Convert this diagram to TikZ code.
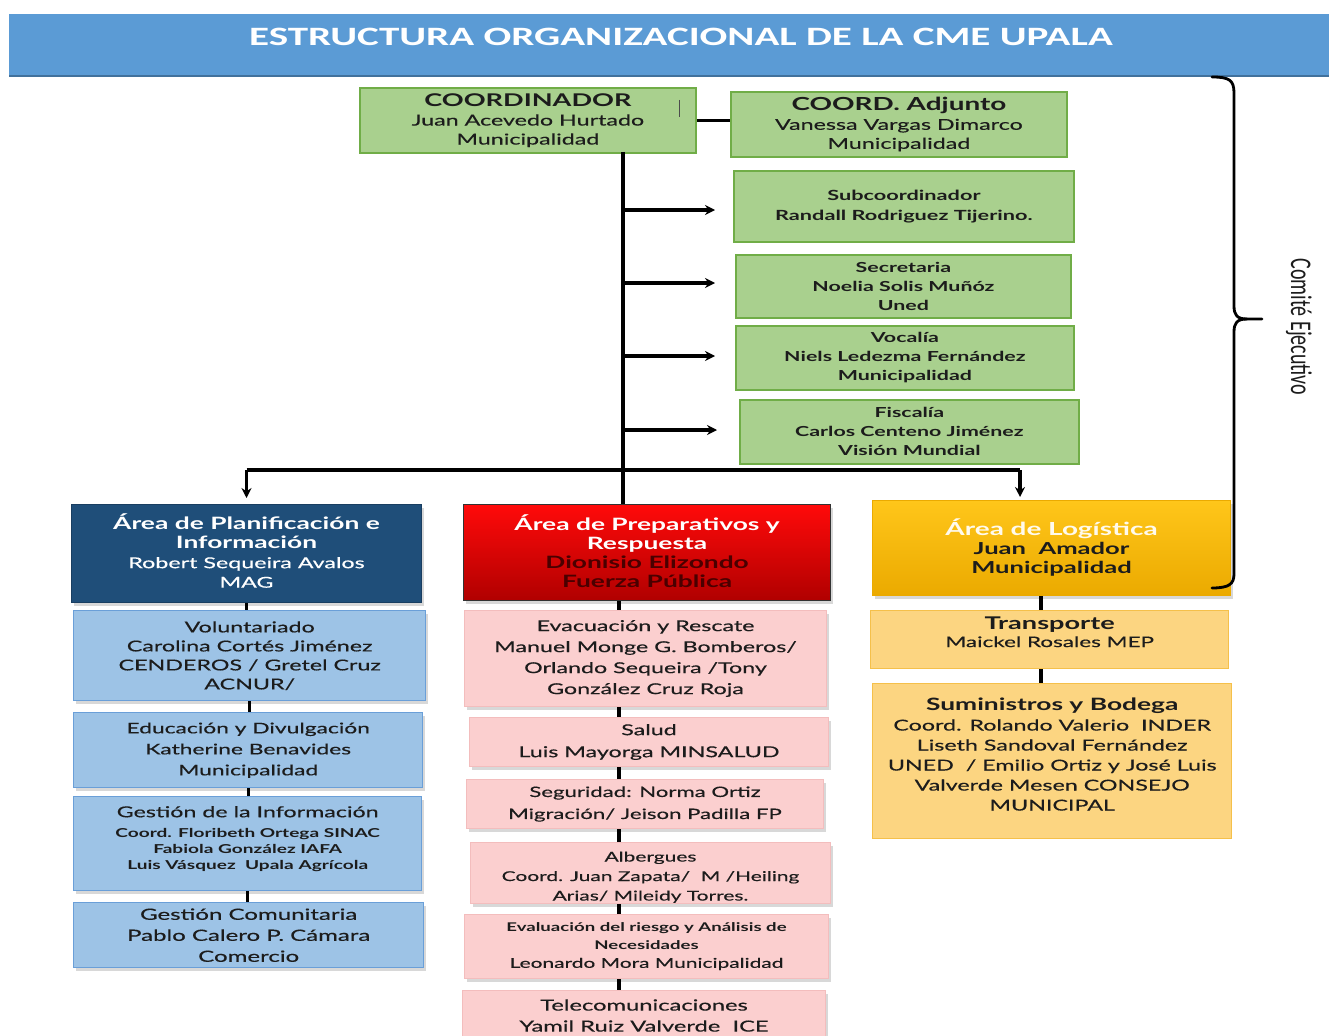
\documentclass[tikz,border=0pt]{standalone}
\usepackage{fontspec}
\setmainfont{Lato}[FakeStretch=1.55, UprightFeatures={FakeBold=0.4}]
\newfontfamily\titlefont{Carlito}[FakeStretch=1.55]
\newfontfamily\sidefont{Carlito}
\usetikzlibrary{shadows,arrows.meta}
\definecolor{titleblue}{HTML}{5B9BD5}
\definecolor{titleedge}{HTML}{41719C}
\definecolor{gF}{HTML}{A9D08E}
\definecolor{gB}{HTML}{70AD47}
\definecolor{dblue}{HTML}{1F4E79}
\definecolor{lblue}{HTML}{9DC3E6}
\definecolor{lblueB}{HTML}{6A9FD8}
\definecolor{pinkF}{HTML}{FBCFCF}
\definecolor{pinkB}{HTML}{F3BDBD}
\definecolor{redTop}{HTML}{FF0A0A}
\definecolor{redBot}{HTML}{B00000}
\definecolor{redTxt}{HTML}{4A0000}
\definecolor{yTop}{HTML}{FFC61A}
\definecolor{yBot}{HTML}{EBAA00}
\definecolor{lyF}{HTML}{FCD581}
\definecolor{lyB}{HTML}{F5C04A}
\definecolor{txt}{HTML}{1C1C1C}
\tikzset{
  bx/.style={anchor=north west, align=center, inner sep=1pt, text=txt},
  shd/.style={drop shadow={shadow xshift=2pt,shadow yshift=-3pt,opacity=0.3}},
  gbox/.style={bx, fill=gF, draw=gB, line width=1.8pt},
  bhead/.style={bx, shd, fill=dblue, draw=dblue!80!black, line width=1pt, text=white},
  rhead/.style={bx, shd, top color=redTop, bottom color=redBot, draw=black!80, line width=1.2pt, text=white},
  yhead/.style={bx, shd, top color=yTop, bottom color=yBot, draw=yBot, line width=1pt},
  bsub/.style={bx, shd, fill=lblue, draw=lblueB, line width=1.4pt},
  psub/.style={bx, shd, fill=pinkF, draw=pinkB, line width=1pt},
  ysub/.style={bx, fill=lyF, draw=lyB, line width=1.4pt},
  conn/.style={line width=3.4pt, black},
  arr/.style={conn, -{Stealth[length=10pt,width=10pt]}},
}
\newcommand{\lift}[1]{\rule[-#1]{0pt}{#1}}
\begin{document}
\begin{tikzpicture}[x=1pt,y=-1pt]
\useasboundingbox (0,0) rectangle (1329,1035);
\clip (0,0) rectangle (1329,1035);
\fill[white] (0,0) rectangle (1329,1035);

% title band
\node[anchor=north west, fill=titleblue, minimum width=1320pt, minimum height=62pt, inner sep=0pt] (band) at (9,14) {};
\draw[titleedge, line width=2pt] (band.south west) -- (band.south east);
\node[text=white, font=\titlefont\bfseries\fontsize{26.5}{28}\selectfont] (title) at (681,37) {ESTRUCTURA ORGANIZACIONAL DE LA CME UPALA};

% executive committee
\node[gbox, minimum width=336pt, minimum height=65pt, font=\fontsize{15}{19}\selectfont] (coord) at (359,87)
  {{\bfseries\fontsize{17.5}{19}\selectfont COORDINADOR}\\Juan Acevedo Hurtado\\Municipalidad};
\draw[line width=1pt, black!70] (679,100) -- (679,117);
\node[gbox, minimum width=336pt, minimum height=65pt, font=\fontsize{15}{19}\selectfont] (adj) at (730,91)
  {{\bfseries\fontsize{18}{19}\selectfont COORD. Adjunto}\\Vanessa Vargas Dimarco\\Municipalidad};
\node[gbox, minimum width=340pt, minimum height=71pt, font=\bfseries\fontsize{14}{20}\selectfont] (sub) at (733,170)
  {Subcoordinador\\Randall Rodriguez Tijerino.};
\node[gbox, minimum width=335pt, minimum height=63pt, font=\bfseries\fontsize{13.8}{19}\selectfont] (sec) at (735,254)
  {Secretaria\\Noelia Solis Muñóz\\Uned};
\node[gbox, minimum width=338pt, minimum height=64pt, font=\bfseries\fontsize{13.8}{19}\selectfont] (voc) at (735,325)
  {Vocalía\\Niels Ledezma Fernández\\Municipalidad};
\node[gbox, minimum width=339pt, minimum height=64pt, font=\bfseries\fontsize{13.8}{19}\selectfont] (fis) at (739,399)
  {Fiscalía\\Carlos Centeno Jiménez\\Visión Mundial};

% area heads
\node[bhead, minimum width=350pt, minimum height=98pt, font=\fontsize{15}{19.5}\selectfont] (pa) at (71,504)
  {{\bfseries\fontsize{17}{19.5}\selectfont Área de Planificación e}\\{\bfseries\fontsize{17}{19.5}\selectfont Información}\\Robert Sequeira Avalos\\MAG\lift{6pt}};
\node[rhead, minimum width=367pt, minimum height=96pt, font=\bfseries\fontsize{17}{19}\selectfont] (pr) at (463,504)
  {Área de Preparativos y\\Respuesta\\\textcolor{redTxt}{Dionisio Elizondo}\\\textcolor{redTxt}{Fuerza Pública}\lift{4pt}};
\node[yhead, minimum width=358pt, minimum height=95pt, font=\bfseries\fontsize{16.5}{19}\selectfont] (la) at (872,500)
  {\textcolor{white!92!yTop}{\fontsize{18}{19}\selectfont Área de Logística}\\Juan~~Amador\\Municipalidad};

% planning column
\node[bsub, minimum width=352pt, minimum height=90pt, font=\fontsize{15}{19}\selectfont] (vol) at (73,610)
  {Voluntariado\\Carolina Cortés Jiménez\\CENDEROS / Gretel Cruz\\ACNUR/};
\node[bsub, minimum width=349pt, minimum height=75pt, font=\fontsize{14.7}{21}\selectfont] (edu) at (73,712)
  {Educación y Divulgación\\Katherine Benavides\\Municipalidad};
\node[bsub, minimum width=348pt, minimum height=94pt, font=\fontsize{15}{16}\selectfont] (gin) at (73,796)
  {Gestión de la Información\\[4pt]{\bfseries\fontsize{12.3}{16}\selectfont Coord. Floribeth Ortega SINAC}\\{\bfseries\fontsize{12.3}{16}\selectfont Fabiola González IAFA}\\{\bfseries\fontsize{12.3}{16}\selectfont Luis Vásquez~~Upala Agrícola}\lift{12pt}};
\node[bsub, minimum width=350pt, minimum height=65pt, font=\fontsize{15.5}{21}\selectfont] (gco) at (73,902)
  {Gestión Comunitaria\\Pablo Calero P. Cámara\\Comercio};

% response column
\node[psub, minimum width=362pt, minimum height=96pt, font=\fontsize{15}{21}\selectfont] (eva) at (464,610)
  {Evacuación y Rescate\\Manuel Monge G. Bomberos/\\Orlando Sequeira /Tony\\González Cruz Roja};
\node[psub, minimum width=359pt, minimum height=49pt, font=\fontsize{15}{22}\selectfont] (sal) at (469,717)
  {Salud\\Luis Mayorga MINSALUD};
\node[psub, minimum width=357pt, minimum height=49pt, font=\fontsize{14.3}{22}\selectfont] (seg) at (466,779)
  {Seguridad: Norma Ortiz\\Migración/ Jeison Padilla FP};
\node[psub, minimum width=360pt, minimum height=60pt, font=\fontsize{13.5}{19.5}\selectfont] (alb) at (470,842)
  {\rule{0pt}{18pt}Albergues\\Coord. Juan Zapata/~~M /Heiling\\Arias/ Mileidy Torres.};
\node[psub, minimum width=364pt, minimum height=64pt, font=\fontsize{13.5}{18}\selectfont] (evr) at (464,914)
  {{\bfseries\fontsize{12}{18}\selectfont Evaluación del riesgo y Análisis de}\\{\bfseries\fontsize{12}{18}\selectfont Necesidades}\\Leonardo Mora Municipalidad};
\node[psub, minimum width=363pt, minimum height=50pt, font=\fontsize{15.3}{21}\selectfont] (tel) at (462,990)
  {Telecomunicaciones\\Yamil Ruiz Valverde~~ICE};

% logistics column
\node[ysub, minimum width=358pt, minimum height=58pt, font=\fontsize{14.5}{18}\selectfont] (tra) at (870,610)
  {{\bfseries\fontsize{17.5}{18}\selectfont Transporte}\\Maickel Rosales MEP\lift{16pt}};
\node[ysub, minimum width=359pt, minimum height=155pt, font=\fontsize{15}{20}\selectfont] (sum) at (872,683)
  {{\bfseries\fontsize{17}{20}\selectfont Suministros y Bodega}\\Coord. Rolando Valerio~~INDER\\Liseth Sandoval Fernández\\UNED~~/ Emilio Ortiz y José Luis\\Valverde Mesen CONSEJO\\MUNICIPAL\lift{14pt}};

% connectors
\coordinate (trunkTop) at (623,152);
\coordinate (hub) at (623,470);
\coordinate (a1) at (623,210);
\coordinate (a2) at (623,283);
\coordinate (a3) at (623,356);
\coordinate (a4) at (623,430);
\coordinate (yArr) at (1020,470);
\coordinate (colR) at (619,0);
\coordinate (colY) at (1041,0);

\draw[conn] (coord.east) -- (coord.east -| adj.west);
\draw[conn] (trunkTop) -- (trunkTop |- pr.north);
\draw[arr, shorten >=18pt] (a1) -- (a1 -| sub.west);
\draw[arr, shorten >=20pt] (a2) -- (a2 -| sec.west);
\draw[arr, shorten >=20pt] (a3) -- (a3 -| voc.west);
\draw[arr, shorten >=22pt] (a4) -- (a4 -| fis.west);
\draw[conn] (hub -| pa.north) -- (yArr);
\draw[arr, shorten >=6pt] (hub -| pa.north) -- (pa.north);
\draw[arr, shorten >=3pt] (yArr) -- (yArr |- la.north);

\draw[conn] (pa.south) -- (pa.south |- vol.north);
\draw[conn] (vol.south) -- (vol.south |- edu.north);
\draw[conn] (edu.south) -- (edu.south |- gin.north);
\draw[conn] (gin.south) -- (gin.south |- gco.north);

\draw[conn] (pr.south -| colR) -- (eva.north -| colR);
\draw[conn] (eva.south -| colR) -- (sal.north -| colR);
\draw[conn] (sal.south -| colR) -- (seg.north -| colR);
\draw[conn] (seg.south -| colR) -- (alb.north -| colR);
\draw[conn] (alb.south -| colR) -- (evr.north -| colR);
\draw[conn] (evr.south -| colR) -- (tel.north -| colR);

\draw[conn] (la.south -| colY) -- (tra.north -| colY);
\draw[conn] (tra.south -| colY) -- (sum.north -| colY);

% brace
\coordinate (brTop) at (1212,77);
\coordinate (brTip) at (1262,319);
\coordinate (brBot) at (1212,588);
\draw[line width=2.8pt, line cap=round] (brTop) .. controls (1229,77) and (1234,80) .. (1234,93) -- (1234,306)
   .. controls (1234,315) and (1237,319) .. (1247,319) -- (brTip);
\draw[line width=2.8pt, line cap=round] (1247,319) .. controls (1237,319) and (1234,323) .. (1234,332) -- (1234,574)
   .. controls (1234,584) and (1229,588) .. (brBot);
\node[rotate=-90, text=txt, font=\sidefont\fontsize{20}{22}\selectfont] (comite) at (1299,327) {\scalebox{1}[1.5]{Comité Ejecutivo}};
\end{tikzpicture}
\end{document}
